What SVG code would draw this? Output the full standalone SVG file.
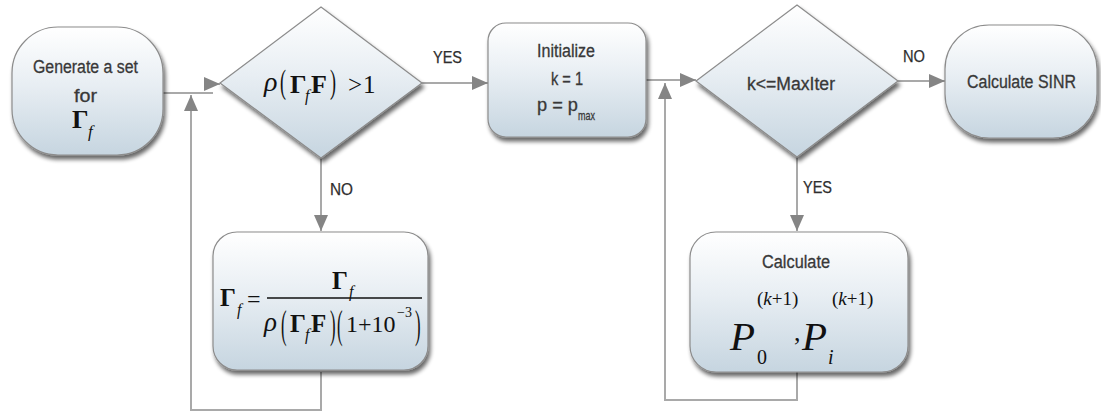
<svg xmlns="http://www.w3.org/2000/svg" width="1101" height="412" viewBox="0 0 1101 412">
  <defs>
    <linearGradient id="nodeFill" x1="0" y1="0" x2="0" y2="1">
      <stop offset="0" stop-color="#ffffff"/>
      <stop offset="0.45" stop-color="#e8eef3"/>
      <stop offset="1" stop-color="#c6d5e0"/>
    </linearGradient>
    <filter id="shadow" x="-10%" y="-10%" width="125%" height="130%">
      <feGaussianBlur in="SourceAlpha" stdDeviation="2.2"/>
      <feOffset dx="2" dy="4" result="blur"/>
      <feComponentTransfer><feFuncA type="linear" slope="0.6"/></feComponentTransfer>
      <feMerge><feMergeNode/><feMergeNode in="SourceGraphic"/></feMerge>
    </filter>
    <marker id="arrow" markerWidth="16" markerHeight="14" refX="16" refY="7" orient="auto" markerUnits="userSpaceOnUse">
      <path d="M0,0 L16,7 L0,14 Z" fill="#858585"/>
    </marker>
    <style>
      .shape { fill: url(#nodeFill); stroke: #8c8c8c; stroke-width: 1.2; filter: url(#shadow); }
      .conn { fill: none; stroke: #a9a9a9; stroke-width: 2; }
      .lbl { font-family: "Liberation Sans Narrow", "Liberation Sans", Arial, sans-serif; fill: #383838; stroke: #383838; stroke-width: 0.3; }
      .edge { font-family: "Liberation Sans Narrow", "Liberation Sans", Arial, sans-serif; fill: #2e2e2e; stroke: #2e2e2e; stroke-width: 0.25; }
      .math { font-family: "Liberation Serif", "Times New Roman", serif; fill: #111111; }
      .bold { font-weight: bold; }
      .it { font-style: italic; }
    </style>
  </defs>

  <!-- connectors -->
  <g id="connectors">
    <path class="conn" d="M163,93 H213"/>
    <path class="conn" d="M205,84 H220" marker-end="url(#arrow)"/>
    <path class="conn" d="M422,83 H488" marker-end="url(#arrow)"/>
    <path class="conn" d="M321,158 V231" marker-end="url(#arrow)"/>
    <path class="conn" d="M321,372 V410 H191 V95" marker-end="url(#arrow)"/>
    <path class="conn" d="M646,80 H696" marker-end="url(#arrow)"/>
    <path class="conn" d="M898,81 H945" marker-end="url(#arrow)"/>
    <path class="conn" d="M797,157 V231" marker-end="url(#arrow)"/>
    <path class="conn" d="M797,372 V400 H665 V83" marker-end="url(#arrow)"/>
    <text class="edge" x="433" y="63" font-size="17" textLength="29" lengthAdjust="spacingAndGlyphs">YES</text>
    <text class="edge" x="330" y="195" font-size="17" textLength="23" lengthAdjust="spacingAndGlyphs">NO</text>
    <text class="edge" x="903" y="62" font-size="17" textLength="22" lengthAdjust="spacingAndGlyphs">NO</text>
    <text class="edge" x="803" y="193" font-size="17" textLength="29" lengthAdjust="spacingAndGlyphs">YES</text>
  </g>

  <!-- start: generate a set for Gamma_f -->
  <g id="node-generate">
    <rect class="shape" x="12" y="27" width="151" height="128" rx="46" ry="46"/>
    <text class="lbl" x="33" y="73" font-size="18" textLength="105" lengthAdjust="spacingAndGlyphs">Generate a set</text>
    <text class="lbl" x="74" y="102" font-size="18" textLength="23" lengthAdjust="spacingAndGlyphs">for</text>
    <text class="math bold" x="72" y="128" font-size="26">Γ</text>
    <text class="math it" x="88" y="137" font-size="17">f</text>
  </g>

  <!-- decision: spectral radius test -->
  <g id="node-radius-test">
    <path class="shape" d="M321,7 L422,83 L321,158 L220,83 Z"/>
    <text class="math it" x="264" y="91" font-size="28">ρ</text>
    <text class="math" transform="translate(280,93) scale(0.75,1.38)" font-size="24">(</text>
    <text class="math bold" x="290" y="93" font-size="26">Γ</text>
    <text class="math it" x="305" y="101" font-size="16">f</text>
    <text class="math bold" x="311" y="93" font-size="26">F</text>
    <text class="math" transform="translate(330,93) scale(0.75,1.38)" font-size="24">)</text>
    <text class="math" x="348" y="93" font-size="25">&gt;</text>
    <text class="math" x="363" y="93" font-size="25">1</text>
  </g>

  <!-- scaling step -->
  <g id="node-scale">
    <rect class="shape" x="213" y="232" width="215" height="138" rx="24" ry="24"/>
    <text class="math bold" x="220" y="306" font-size="25">Γ</text>
    <text class="math it" x="237" y="315" font-size="16">f</text>
    <text class="math" x="247" y="307" font-size="24">=</text>
    <text class="math bold" x="332" y="289" font-size="25">Γ</text>
    <text class="math it" x="349" y="297" font-size="16">f</text>
    <line x1="267" y1="298" x2="422" y2="298" stroke="#111111" stroke-width="1.3"/>
    <text class="math it" x="264" y="331" font-size="27">ρ</text>
    <text class="math" transform="translate(281,338) scale(0.7,1.7)" font-size="24">(</text>
    <text class="math bold" x="290" y="332" font-size="25">Γ</text>
    <text class="math it" x="305" y="340" font-size="16">f</text>
    <text class="math bold" x="311" y="332" font-size="25">F</text>
    <text class="math" transform="translate(330,338) scale(0.7,1.7)" font-size="24">)</text>
    <text class="math" transform="translate(337,338) scale(0.7,1.7)" font-size="24">(</text>
    <text class="math" x="346" y="332" font-size="24">1+10</text>
    <text class="math" x="397" y="317" font-size="14">−3</text>
    <text class="math" transform="translate(415,338) scale(0.7,1.7)" font-size="24">)</text>
  </g>

  <!-- initialization -->
  <g id="node-init">
    <rect class="shape" x="488" y="23" width="158" height="114" rx="18" ry="18"/>
    <text class="lbl" x="537" y="57" font-size="18" textLength="58" lengthAdjust="spacingAndGlyphs">Initialize</text>
    <text class="lbl" x="551" y="85" font-size="18" textLength="32" lengthAdjust="spacingAndGlyphs">k = 1</text>
    <text class="lbl" x="537" y="111" font-size="18" textLength="41" lengthAdjust="spacingAndGlyphs">p = p</text>
    <text class="lbl" x="578" y="120" font-size="13" textLength="17" lengthAdjust="spacingAndGlyphs">max</text>
  </g>

  <!-- decision: iteration limit -->
  <g id="node-iter-test">
    <path class="shape" d="M797,5 L898,81 L797,157 L696,81 Z"/>
    <text class="lbl" x="747" y="90" font-size="18" textLength="88" lengthAdjust="spacingAndGlyphs">k&lt;=MaxIter</text>
  </g>

  <!-- power update -->
  <g id="node-update">
    <rect class="shape" x="690" y="232" width="218" height="140" rx="26" ry="26"/>
    <text class="lbl" x="762" y="268" font-size="18" textLength="68" lengthAdjust="spacingAndGlyphs">Calculate</text>
    <text class="math it" x="730" y="350" font-size="41">P</text>
    <text class="math" x="757" y="364" font-size="20">0</text>
    <text class="math" x="757" y="305" font-size="19">(<tspan class="it">k</tspan>+1)</text>
    <text class="math" x="794" y="341" font-size="26">,</text>
    <text class="math it" x="802" y="350" font-size="41">P</text>
    <text class="math it" x="828" y="364" font-size="20">i</text>
    <text class="math" x="832" y="305" font-size="19">(<tspan class="it">k</tspan>+1)</text>
  </g>

  <!-- end: SINR -->
  <g id="node-sinr">
    <rect class="shape" x="945" y="25" width="152" height="113" rx="44" ry="44"/>
    <text class="lbl" x="967" y="88" font-size="18" textLength="109" lengthAdjust="spacingAndGlyphs">Calculate SINR</text>
  </g>
</svg>
